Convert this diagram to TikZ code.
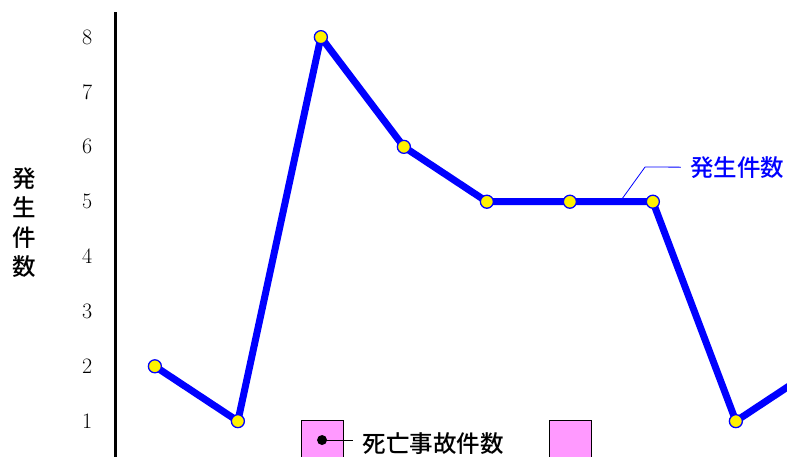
\documentclass[tikz,border=0pt]{standalone}
\usepackage{fontspec}
\newfontfamily\jpfont{Noto Sans CJK JP}[BoldFont={Noto Sans CJK JP Medium}]
\definecolor{legendpink}{RGB}{255,153,255}
\tikzset{
	dataline/.style={blue, line width=7pt, line join=round},
	datamark/.style={circle, draw=blue, fill=yellow, line width=1.3pt, inner sep=0pt, minimum size=13pt},
	legendbox/.style={draw=black, fill=legendpink, line width=0.8pt},
	ticklabel/.style={font=\fontsize{22}{22}\selectfont},
	jplabel/.style={font=\jpfont\bfseries\fontsize{23.5}{23.5}\selectfont}
}
\begin{document}
\begin{tikzpicture}[x=83pt,y=54.86pt]
		\useasboundingbox (-1.386,0.3646) rectangle (8.096,8.677);
		\clip (-1.386,0.3646) rectangle (8.096,8.677);
		%
		% axis and tick labels
		\draw[black, line width=3pt] (0,8.458) -- (0,0);
		\foreach \v in {1,...,8}
			\node[ticklabel] (t\v) at (-0.337,\v) {\v};
		\node[jplabel, align=center, text width=1em] (ylab) at (-1.18,4.62) {発\\[6pt]生\\[6pt]件\\[6pt]数};
		%
		% legend boxes
		\draw[legendbox] (2.241,-0.2) rectangle (2.747,1.021);
		\draw[legendbox] (5.229,-0.2) rectangle (5.735,1.021);
		\fill[black] (2.494,0.656) coordinate (dot) circle (5pt);
		\node[jplabel, anchor=west] (death) at (2.94,0.6) {死亡事故件数};
		\draw[black, line width=0.8pt] (dot) -- ([xshift=-6pt]death.west |- dot);
		%
		% data line
		\foreach \i/\v in {1/2,2/1,3/8,4/6,5/5,6/5,7/5,8/1,9/2}
			\coordinate (p\i) at (\i-0.52,\v);
		\draw[dataline] (p1) -- (p2) -- (p3) -- (p4) -- (p5) -- (p6) -- (p7) -- (p8) -- (p9);
		\foreach \i in {1,...,9}
			\node[datamark] (m\i) at (p\i) {};
		%
		% series label
		\coordinate (lead) at (6.084,5.0);
		\node[jplabel, text=blue, anchor=west] (occ) at (6.89,5.63) {発生件数};
		\draw[blue, line width=0.8pt] (lead) -- (6.386,5.633) -- ([xshift=-6pt]occ.west);
		%
	\end{tikzpicture}
\end{document}
